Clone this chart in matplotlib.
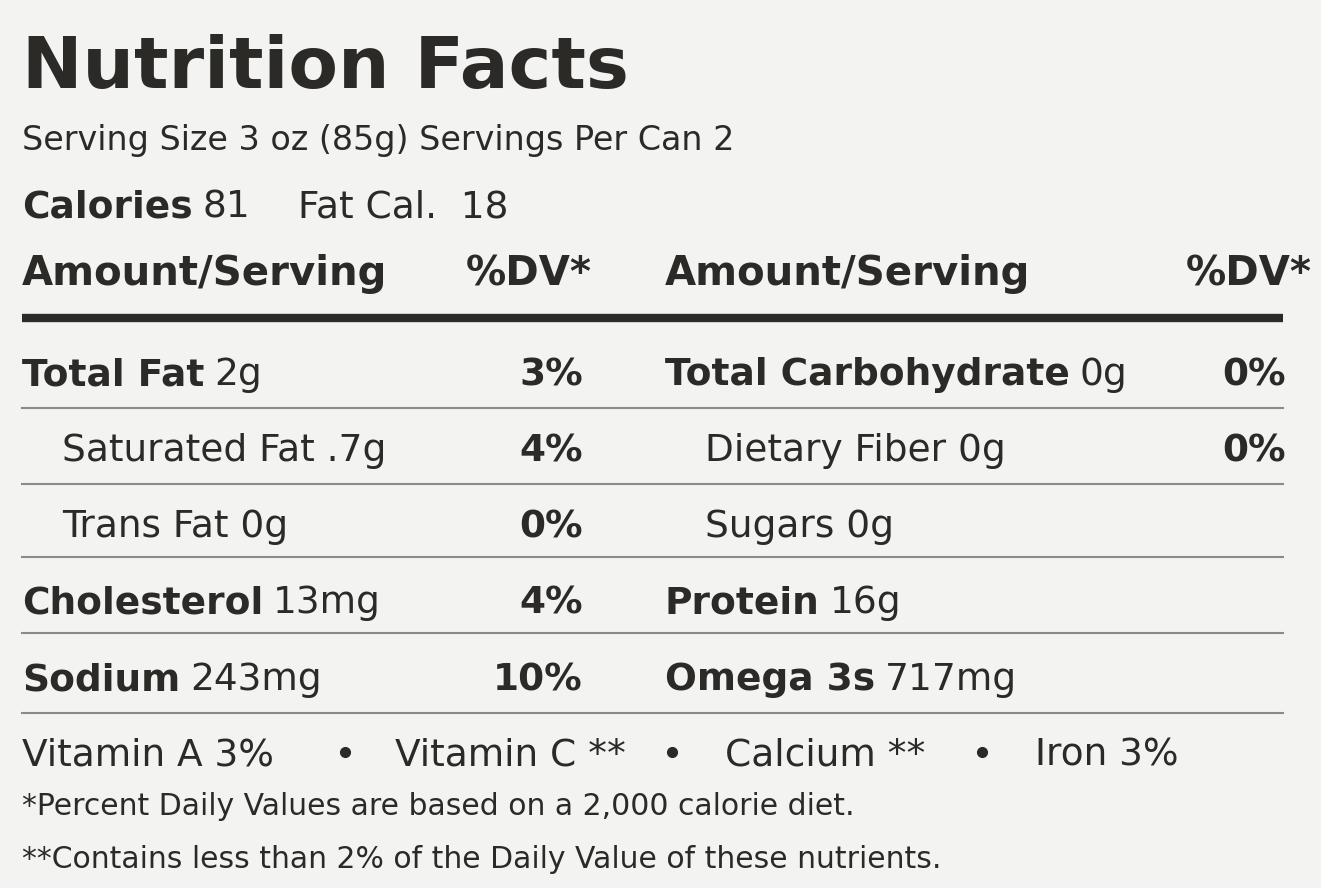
import matplotlib.pyplot as plt

plt.rcParams['font.family'] = ['Liberation Sans Narrow', 'DejaVu Sans Condensed', 'DejaVu Sans']

ink = '#2b2a27'
bg = '#f3f3f1'

title = 'Nutrition Facts'
serving = 'Serving Size 3 oz (85g) Servings Per Can 2'
calories = '81'
fat_cal = '18'

left_names = ['Total Fat', 'Saturated Fat', 'Trans Fat', 'Cholesterol', 'Sodium']
left_amounts = ['2g', '.7g', '0g', '13mg', '243mg']
left_dv = ['3%', '4%', '0%', '4%', '10%']
left_bold = [True, False, False, True, True]

right_names = ['Total Carbohydrate', 'Dietary Fiber', 'Sugars', 'Protein', 'Omega 3s']
right_amounts = ['0g', '0g', '0g', '16g', '717mg']
right_dv = ['0%', '0%', '', '', '']
right_bold = [True, False, False, True, True]

vitamins = ['Vitamin A 3%', 'Vitamin C **', 'Calcium **', 'Iron 3%']
foot1 = '*Percent Daily Values are based on a 2,000 calorie diet.'
foot2 = '**Contains less than 2% of the Daily Value of these nutrients.'

fig = plt.figure(figsize=(13.21, 8.88), dpi=100, facecolor=bg)
ax = fig.add_axes([0, 0, 1, 1])
ax.set_xlim(0, 1321)
ax.set_ylim(888, 0)
ax.axis('off')
ax.set_facecolor(bg)

def txt(x, y, s, size, bold=False, ha='left'):
    return ax.text(x, y, s, fontsize=size, color=ink, ha=ha, va='baseline',
                   fontweight='bold' if bold else 'normal')

def pair(x, y, a, b, size):
    t = txt(x, y, a, size, bold=True)
    fig.canvas.draw()
    bb = t.get_window_extent()
    txt(bb.x1 + 10, y, b, size)

txt(22, 88, title, 52, bold=True)
txt(22, 150, serving, 24)
pair(22, 217, 'Calories', calories, 27)
txt(298, 217, 'Fat Cal.  ' + fat_cal, 27)
txt(22, 285, 'Amount/Serving', 29, bold=True)
txt(592, 285, '%DV*', 29, bold=True, ha='right')
txt(665, 285, 'Amount/Serving', 29, bold=True)
txt(1312, 285, '%DV*', 29, bold=True, ha='right')

ax.plot([22, 1283], [318, 318], color=ink, lw=6, solid_capstyle='butt')

row_y = [385, 461, 537, 613, 690]
line_y = [408, 484, 557, 633, 713]
for i, y in enumerate(row_y):
    lx = 22 if left_bold[i] else 62
    rx = 665 if right_bold[i] else 705
    if left_bold[i]:
        pair(lx, y, left_names[i], left_amounts[i], 27)
    else:
        txt(lx, y, left_names[i] + ' ' + left_amounts[i], 27)
    if right_bold[i]:
        pair(rx, y, right_names[i], right_amounts[i], 27)
    else:
        txt(rx, y, right_names[i] + ' ' + right_amounts[i], 27)
    txt(583, y, left_dv[i], 27, bold=True, ha='right')
    if right_dv[i]:
        txt(1286, y, right_dv[i], 27, bold=True, ha='right')
for y in line_y:
    ax.plot([22, 1283], [y, y], color='#8a8a88', lw=1.5)

txt(22, 765, vitamins[0], 27)
txt(395, 765, vitamins[1], 27)
txt(725, 765, vitamins[2], 27)
txt(1035, 765, vitamins[3], 27)
for bx in [345, 672, 982]:
    ax.plot(bx, 752, 'o', color=ink, ms=7)
txt(22, 815, foot1, 21.5)
txt(22, 868, foot2, 21.5)

fig.savefig('out.png', dpi=100, facecolor=bg)
